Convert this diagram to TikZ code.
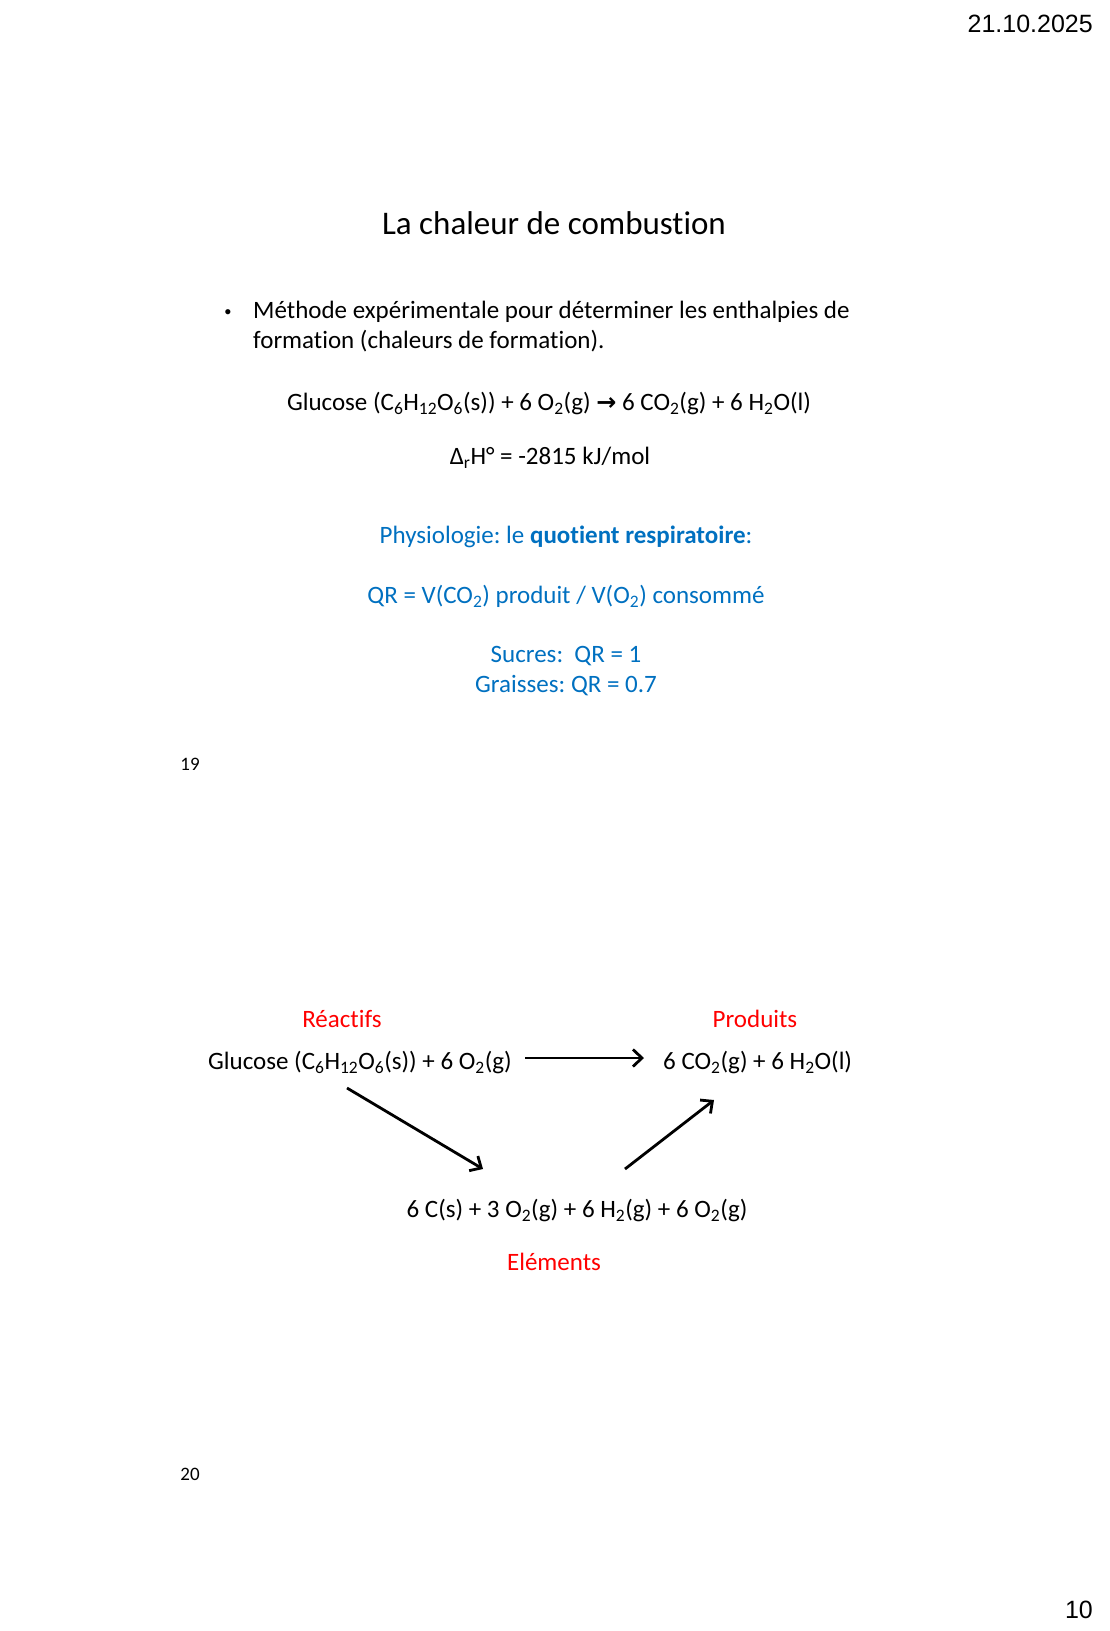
\documentclass[tikz,border=0pt]{standalone}
\usepackage{fontspec}
\setmainfont[Ligatures={NoCommon,NoRare,NoContextual},Contextuals=NoAlternate]{Carlito}
\newfontfamily\arialf{Liberation Sans}
\newfontfamily\dejavu{DejaVu Sans}
\usetikzlibrary{arrows.meta}
\definecolor{pblue}{RGB}{0,112,192}
\definecolor{pred}{RGB}{255,0,0}
\newcommand\sbs[1]{\textsubscript{#1}}
\frenchspacing
\tikzset{
  body/.style={inner sep=0pt, font=\fontsize{25}{30}\selectfont},
  bluetxt/.style={body, text=pblue},
  redtxt/.style={body, text=pred},
  smallnum/.style={inner sep=0pt, font=\fontsize{19}{22}\selectfont},
  hdr/.style={inner sep=0pt, font=\arialf\fontsize{25}{30}\selectfont},
  rxn/.style={line width=2.8pt, -{Straight Barb[length=9pt,width=17pt,line width=2.8pt]}}
}
\begin{document}
\begin{tikzpicture}[x=1pt,y=-1pt]
\useasboundingbox (0,0) rectangle (1109,1631);
% header / footer
\node[hdr, anchor=mid east] (date) at (1093,30) {21.10.2025};
\node[hdr, anchor=mid east] (pg) at (1093,1616) {10};
% slide 19
\node[inner sep=0pt, font=\fontsize{33}{40}\selectfont, anchor=mid] (title) at (554,232) {La chaleur de combustion};
\node[inner sep=0pt, font=\arialf\fontsize{19}{22}\selectfont, anchor=mid] (bul) at (228,316) {•};
\node[body, anchor=mid west] (l1) at (253,316) {Méthode expérimentale pour déterminer les enthalpies de};
\node[body, anchor=mid west] (l2) at (253,346) {formation (chaleurs de formation).};
\node[body, anchor=mid] (eq) at (549,408) {Glucose (C\sbs{6}H\sbs{12}O\sbs{6}(s)) + 6 O\sbs{2}(g) {\dejavu\bfseries\fontsize{24}{26}\selectfont →} 6 CO\sbs{2}(g) + 6 H\sbs{2}O(l)};
\node[body, anchor=mid] (dh) at (550,462) {Δ\sbs{r}H° = -2815 kJ/mol};
\node[bluetxt, anchor=mid] (phys) at (566,541) {Physiologie: le \textbf{quotient respiratoire}:};
\node[bluetxt, anchor=mid] (qr) at (566,601) {QR = V(CO\sbs{2}) produit / V(O\sbs{2}) consommé};
\node[bluetxt, anchor=mid] (suc) at (566,660) {Sucres:\ \ QR = 1};
\node[bluetxt, anchor=mid] (gra) at (566,690) {Graisses: QR = 0.7};
\node[smallnum, anchor=mid] (n19) at (190,768) {19};
% slide 20
\node[redtxt, anchor=mid] (reac) at (342,1025) {Réactifs};
\node[redtxt, anchor=mid] (prod) at (755,1025) {Produits};
\node[body, anchor=mid west] (glu) at (208,1067) {Glucose (C\sbs{6}H\sbs{12}O\sbs{6}(s)) + 6 O\sbs{2}(g)};
\node[body, anchor=mid west] (pro) at (663,1067) {6 CO\sbs{2}(g) + 6 H\sbs{2}O(l)};
\node[body, anchor=mid] (ele) at (577,1215) {6 C(s) + 3 O\sbs{2}(g) + 6 H\sbs{2}(g) + 6 O\sbs{2}(g)};
\node[redtxt, anchor=mid] (elab) at (554,1268) {Eléments};
\node[smallnum, anchor=mid] (n20) at (190,1478) {20};
\coordinate (h1) at (525,1058);
\coordinate (h2) at (644,1058);
\coordinate (d1) at (347,1088);
\coordinate (d2) at (483,1169);
\coordinate (u1) at (625,1169);
\coordinate (u2) at (714,1100);
\draw[rxn] (h1) -- (h2);
\draw[rxn] (d1) -- (d2);
\draw[rxn] (u1) -- (u2);
\end{tikzpicture}
\end{document}
